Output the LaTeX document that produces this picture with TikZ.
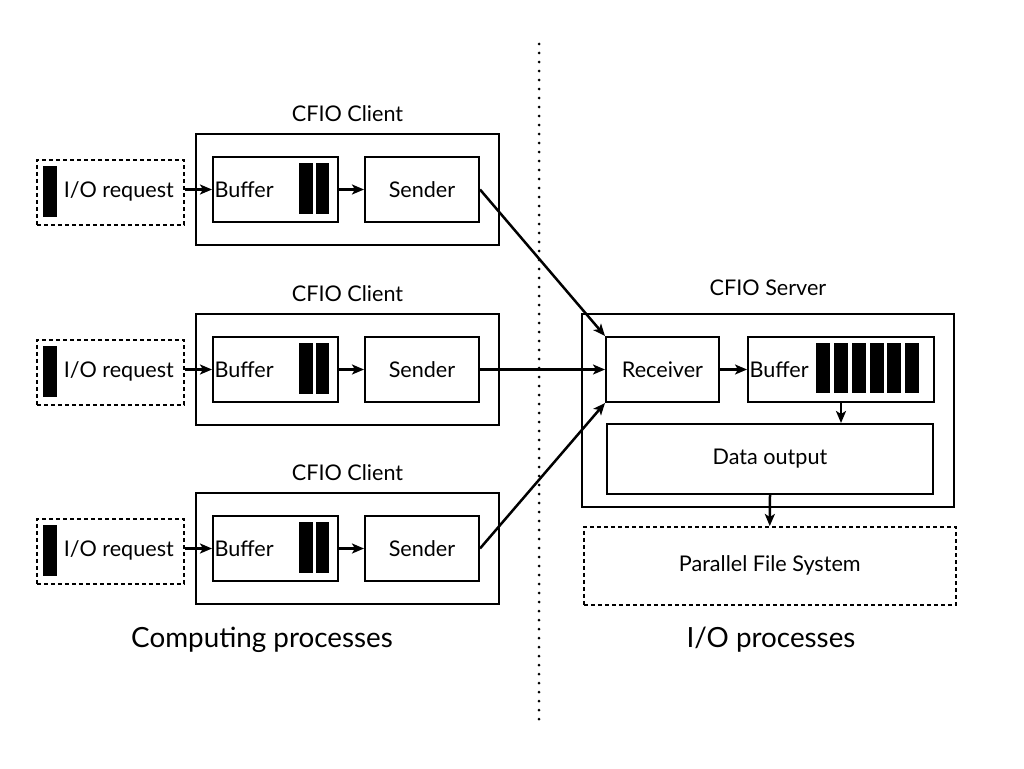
\documentclass[tikz,border=0pt]{standalone}
\usepackage{fontspec}
\setmainfont{Lato}
\usetikzlibrary{arrows.meta, positioning}

\tikzset{
  blk/.style={draw, line width=2pt, inner sep=0pt, anchor=north west},
  reqbox/.style={blk, line width=1.5pt, dash pattern=on 4pt off 3pt},
  bar/.style={fill=black, inner sep=0pt, anchor=north west, minimum width=14pt},
  flow/.style={-{Stealth[length=12pt, width=10pt, inset=3pt]}, line width=2.5pt},
}

\begin{document}
\begin{tikzpicture}[x=1pt, y=-1pt, font=\fontsize{21.6}{25}\selectfont]
	\useasboundingbox (0,0) rectangle (1024,768);

	% computing side: three clients
	\foreach \k/\dy in {0/0, 1/180, 2/359} {
		\node[blk, minimum width=303pt, minimum height=111pt] (cl\k) at (195,133+\dy) {};
		\node[above=8pt of cl\k] (ct\k) {CFIO Client};

		\node[reqbox, minimum width=147pt, minimum height=65pt] (req\k) at (36,159+\dy) {};
		\node[bar, minimum height=51pt] (rb\k) at (43,166+\dy) {};
		\node[right=3pt of rb\k] (rt\k) {I/O request};

		\node[blk, minimum width=125pt, minimum height=65pt] (buf\k) at (212,156+\dy) {};
		\node[right=-1pt of buf\k.west] (bt\k) {Buffer};
		\node[bar, minimum height=51pt] (ba\k) at (299,163+\dy) {};
		\node[bar, minimum height=51pt, minimum width=13pt] (bb\k) at (316,163+\dy) {};

		\node[blk, minimum width=114pt, minimum height=65pt] (snd\k) at (364,156+\dy) {};
		\node (st\k) at (snd\k.center) {Sender};

		\draw[flow] (req\k.east |- buf\k.west) -- (buf\k.west);
		\draw[flow] (buf\k.east) -- (snd\k.west);
	}

	% I/O side: server
	\node[blk, minimum width=372pt, minimum height=193pt] (srv) at (581,313) {};
	\node[above=14pt of srv] (svt) {CFIO Server};

	\node[blk, minimum width=113pt, minimum height=65pt] (rcv) at (605,336) {};
	\node (rct) at (rcv.center) {Receiver};

	\node[blk, minimum width=186pt, minimum height=65pt] (sbuf) at (747,336) {};
	\node[right=-1pt of sbuf.west] (sbt) {Buffer};
	\foreach \i in {0,...,5}
		\node[bar, minimum height=50pt] (sb\i) at (816+17.8*\i,343) {};

	\node[blk, minimum width=326pt, minimum height=70pt] (out) at (606,423) {};
	\node (outt) at (out.center) {Data output};

	\node[reqbox, minimum width=372pt, minimum height=78pt] (pfs) at (583,526) {};
	\node (pfst) at (pfs.center) {Parallel File System};

	\draw[flow] (rcv.east) -- (sbuf.west);
	\draw[flow] (sbuf.south) -- (sbuf.south |- out.north);
	\draw[flow] (out.south) -- (pfs.north);

	\draw[flow] (snd0.east) -- (rcv.north west);
	\draw[flow] (snd1.east) -- (rcv.west);
	\draw[flow] (snd2.east) -- (rcv.south west);

	% divider
	\draw[line width=3pt, line cap=round, dash pattern=on 0pt off 9pt] (539,44) -- (539,720);

	\node[font=\fontsize{27.8}{32}\selectfont] (cmp) at (262,640) {Computing processes};
	\node[font=\fontsize{27.8}{32}\selectfont] (iop) at (771,640) {I/O processes};
\end{tikzpicture}
\end{document}
